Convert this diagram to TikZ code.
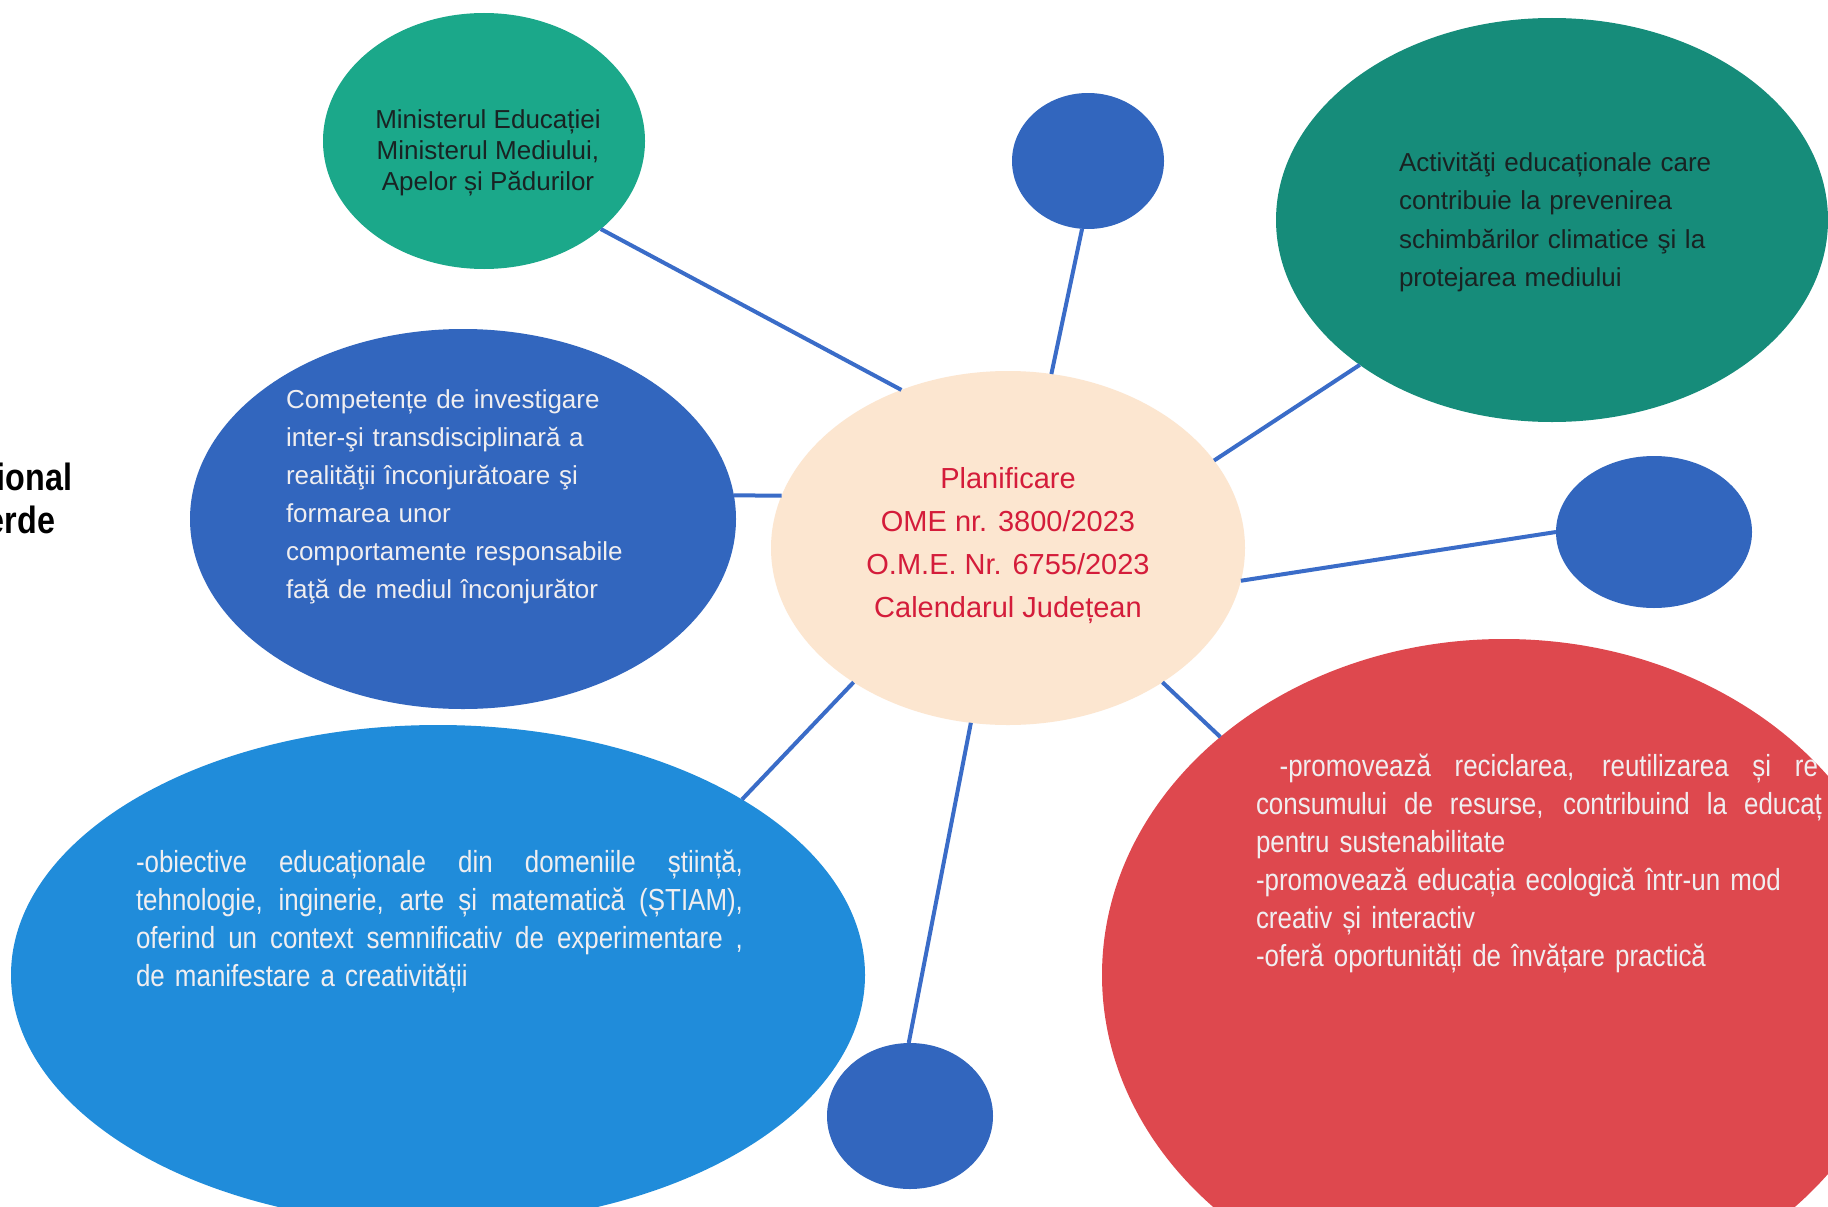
\documentclass[tikz,border=0pt]{standalone}
\usepackage{fontspec}
\setmainfont{Liberation Sans}
\newfontfamily\narrowfont[FakeStretch=0.85]{Liberation Sans}
\usetikzlibrary{shapes.geometric}
\definecolor{cGreen}{RGB}{27,168,138}
\definecolor{cTeal}{RGB}{22,140,122}
\definecolor{cBlue}{RGB}{50,102,190}
\definecolor{cLight}{RGB}{32,140,218}
\definecolor{cRed}{RGB}{222,72,78}
\definecolor{cPeach}{RGB}{252,230,208}
\definecolor{cTextRed}{RGB}{212,28,58}
\definecolor{cLine}{RGB}{58,108,200}
\definecolor{cDark}{RGB}{25,35,35}
\definecolor{cWhiteText}{RGB}{240,238,240}
\newcommand\jline[2]{{\spaceskip=0pt\xspaceskip=0pt\makebox[#1][s]{#2}}}
\begin{document}
\begin{tikzpicture}[x=1pt,y=-1pt,
  blob/.style={ellipse, inner sep=0pt, outer sep=0pt, draw=none},
  link/.style={draw=cLine, line width=4pt},
  txt/.style={inner sep=0pt, outer sep=0pt}]
\useasboundingbox (0,0) rectangle (1828,1207);
\fill[white] (0,0) rectangle (1828,1207);
\clip (0,0) rectangle (1828,1207);

% ellipses
\node[blob, fill=cGreen, minimum width=322pt, minimum height=256pt] (G) at (484,141) {};
\node[blob, fill=cBlue, minimum width=152pt, minimum height=136pt] (T) at (1088,161) {};
\node[blob, fill=cTeal, minimum width=552pt, minimum height=404pt] (Q) at (1552,220) {};
\node[blob, fill=cBlue, minimum width=196pt, minimum height=152pt] (R) at (1654,532) {};
\node[blob, fill=cBlue, minimum width=546pt, minimum height=380pt] (K) at (463,519) {};
\node[blob, fill=cPeach, minimum width=474pt, minimum height=354pt] (C) at (1008,548) {};
\node[blob, fill=cLight, minimum width=854pt, minimum height=500pt] (L) at (438,975) {};
\node[blob, fill=cRed, minimum width=804pt, minimum height=672pt] (D) at (1504,975) {};
\node[blob, fill=cBlue, minimum width=166pt, minimum height=146pt] (B) at (910,1116) {};

% connectors
\draw[link] (C.124) -- (G.-37.8);
\draw[link] (C.76) -- (T.-95);
\draw[link] (C.23.9) -- (Q.217.8);
\draw[link] (C.-8.4) -- (R.180);
\draw[link] (C.-41) -- (D.140);
\draw[link] (C.258.7) -- (B.91);
\draw[link] (C.221.2) -- (L.30.5);
\draw[link] (C.167.3) -- (K.5.5);

% texts
\node[txt, text=cDark, align=center, font=\fontsize{26}{31}\selectfont] (gtext) at (488,153)
  {Ministerul Educației\\Ministerul Mediului,\\Apelor și Pădurilor};
\node[txt, text=cDark, align=left, anchor=west, text width=340pt, font=\fontsize{26}{38.5}\selectfont] (qtext) at (1399,222)
  {Activităţi educaționale care\\contribuie la prevenirea\\schimbărilor climatice şi la\\protejarea mediului};
\node[txt, text=cTextRed, align=center, font=\fontsize{29}{43}\selectfont] (ctext) at (1008,546)
  {Planificare\\OME nr. 3800/2023\\O.M.E. Nr. 6755/2023\\Calendarul Județean};
\node[txt, text=cWhiteText, align=left, anchor=west, text width=380pt, font=\fontsize{26}{38}\selectfont] (ktext) at (286,497)
  {Competențe de investigare\\inter-şi transdisciplinară a\\realităţii înconjurătoare şi\\formarea unor\\comportamente responsabile\\faţă de mediul înconjurător};
\node[txt, text=cWhiteText, align=left, anchor=west, text width=620pt, font=\narrowfont\fontsize{30.5}{38}\selectfont] (ltext) at (136,921)
  {\jline{607pt}{-obiective educaționale din domeniile știință,}\\
   \jline{607pt}{tehnologie, inginerie, arte și matematică (ȘTIAM),}\\
   \jline{607pt}{oferind un context semnificativ de experimentare ,}\\
   de manifestare a creativității};
\begin{scope}
  \clip (1504,975) ellipse [x radius=402pt, y radius=336pt];
  \node[txt, text=cWhiteText, align=left, anchor=west, text width=700pt, font=\narrowfont\fontsize{30.5}{38}\selectfont] (dtext) at (1256,863)
    {\jline{562pt}{\ -promovează reciclarea, reutilizarea și re}\\
     \jline{566pt}{consumului de resurse, contribuind la educaț}\\
     pentru sustenabilitate\\
     -promovează educația ecologică într-un mod\\
     creativ și interactiv\\
     -oferă oportunități de învățare practică};
\end{scope}
\node[txt, anchor=base east, text=black, font=\narrowfont\bfseries\fontsize{38}{44}\selectfont] (w1) at (72,490) {ional};
\node[txt, anchor=base east, text=black, font=\narrowfont\bfseries\fontsize{38}{44}\selectfont] (w2) at (55,533) {erde};
\end{tikzpicture}
\end{document}
